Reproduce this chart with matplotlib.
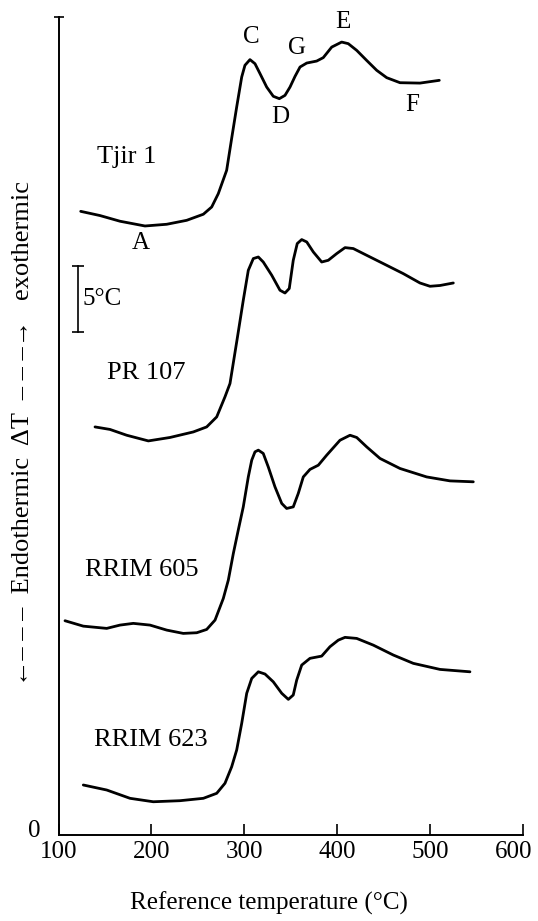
import numpy as np
import matplotlib
matplotlib.use("Agg")
import matplotlib.pyplot as plt
from matplotlib.transforms import ScaledTranslation

plt.rcParams['font.family'] = ['Liberation Serif', 'DejaVu Serif']

# DTA curves: reference temperature (C) vs offset delta T (C)
tjir_T = [123.9, 144.7, 166.2, 193.1, 216.5, 238.0, 255.9, 264.9, 272.0, 281.0, 286.4,
          291.8, 297.2, 300.7, 306.1, 311.5, 316.9, 324.1, 331.2, 337.7, 343.8, 349.2, 354.6,
          360.0, 367.2, 377.9, 385.0, 394.1, 404.8, 411.9, 421.0, 431.7, 442.5, 453.3, 467.6,
          489.1, 509.9]
tjir_dT = [47.27, 46.95, 46.52, 46.16, 46.29, 46.59, 47.05, 47.60, 48.61, 50.38, 52.80,
           55.18, 57.45, 58.34, 58.77, 58.46, 57.71, 56.69, 55.99, 55.81, 56.06, 56.69, 57.50,
           58.21, 58.51, 58.66, 58.92, 59.72, 60.10, 59.98, 59.47, 58.71, 57.96, 57.40, 57.02,
           56.99, 57.20]

pr107_T = [139.3, 155.4, 173.4, 196.7, 220.0, 245.1, 259.5, 270.3, 279.2, 284.6, 292.1, 298.9,
           304.3, 309.7, 315.1, 320.4, 329.5, 338.4, 343.8, 348.4, 352.7, 357.0, 361.8, 367.2,
           374.3, 383.3, 390.4, 399.5, 408.4, 417.3, 431.7, 449.6, 471.1, 489.1, 499.9, 510.7,
           525.0]
pr107_dT = [30.93, 30.74, 30.30, 29.87, 30.13, 30.55, 30.93, 31.69, 33.21, 34.22, 37.50, 40.53,
            42.80, 43.69, 43.81, 43.43, 42.43, 41.29, 41.08, 41.42, 43.56, 44.83, 45.13, 44.95,
            44.19, 43.43, 43.56, 44.07, 44.52, 44.45, 43.94, 43.31, 42.55, 41.84, 41.59, 41.65,
            41.84]

rrim605_T = [107.0, 126.7, 151.9, 166.2, 180.5, 198.5, 216.5, 234.3, 248.8, 259.5, 268.5,
             277.4, 282.8, 288.2, 293.5, 298.9, 304.3, 308.0, 311.5, 315.1, 320.4, 325.8, 333.0,
             340.3, 345.6, 352.7, 358.1, 363.5, 370.7, 379.7, 388.7, 403.0, 413.8, 421.0, 431.7,
             446.1, 467.6, 496.3, 521.4, 546.5]
rrim605_dT = [16.24, 15.83, 15.66, 15.91, 16.04, 15.91, 15.53, 15.28, 15.33, 15.58, 16.29,
              17.93, 19.32, 21.34, 23.11, 24.87, 27.14, 28.41, 29.04, 29.17, 28.92, 27.90, 26.39,
              25.13, 24.75, 24.87, 25.89, 27.14, 27.71, 28.03, 28.79, 29.92, 30.30, 30.13, 29.42,
              28.54, 27.78, 27.14, 26.84, 26.77]

rrim623_T = [126.7, 151.9, 177.0, 202.0, 230.8, 255.9, 270.3, 279.2, 286.4, 291.8, 297.2, 302.6,
             308.0, 315.1, 322.3, 331.2, 340.3, 347.4, 352.7, 356.4, 361.8, 370.7, 383.3, 392.2,
             401.2, 408.4, 421.0, 438.9, 460.4, 481.9, 510.7, 542.9]
rrim623_dT = [3.79, 3.41, 2.78, 2.52, 2.60, 2.78, 3.16, 3.92, 5.17, 6.44, 8.46, 10.74,
              11.87, 12.37, 12.20, 11.61, 10.74, 10.28, 10.61, 11.74, 12.88, 13.39, 13.56, 14.27,
              14.77, 14.98, 14.90, 14.39, 13.64, 13.01, 12.55, 12.37]

# sample names and where they sit
names = ['Tjir 1', 'PR 107', 'RRIM 605', 'RRIM 623']
name_T = [173.7, 194.2, 189.9, 199.6]
name_dT = [51.4, 35.0, 20.1, 7.2]

# peak letters on the Tjir 1 curve
letters = ['A', 'C', 'D', 'G', 'E', 'F']
letter_T = [188.8, 307.2, 338.4, 356.7, 406.2, 480.5]
letter_dT = [44.85, 60.46, 54.40, 59.62, 61.59, 55.30]

# 5 C scale bar
bar_T = 121.0
bar_low = 38.1
bar_len = 5.0

xticks = [100, 200, 300, 400, 500, 600]

fig = plt.figure(figsize=(5.38, 9.21), dpi=100)
ax = fig.add_axes([58.5 / 538, 86 / 921, 464.5 / 538, 818 / 921])

for T, d in [(tjir_T, tjir_dT), (pr107_T, pr107_dT), (rrim605_T, rrim605_dT), (rrim623_T, rrim623_dT)]:
    ax.plot(T, d, color='black', lw=2.0, solid_joinstyle='round', solid_capstyle='round')

for n, x, y in zip(names, name_T, name_dT):
    ax.text(x, y, n, fontsize=19, ha='center', va='center')

for l, x, y in zip(letters, letter_T, letter_dT):
    ax.text(x, y, l, fontsize=18, ha='center', va='center', clip_on=False)

# scale bar
ax.plot([bar_T, bar_T], [bar_low, bar_low + bar_len], color='black', lw=1.2,
        marker='_', ms=8, mew=1.2)
ax.text(bar_T + 5, bar_low + bar_len / 2, '5°C', fontsize=18, ha='left', va='center')

ax.set_xlim(100, 600)
ax.set_ylim(0, 62)
ax.spines['top'].set_visible(False)
ax.spines['right'].set_visible(False)
for s in ['left', 'bottom']:
    ax.spines[s].set_linewidth(1.4)

ax.set_xticks(xticks)
ax.set_xticklabels([str(t) for t in xticks], fontsize=18)
ax.tick_params(axis='x', direction='in', length=8, width=1.2, pad=4)
# last label sits a little left of its tick in the original
lab = ax.get_xticklabels()[-1]
lab.set_transform(lab.get_transform() + ScaledTranslation(-9 / 100, 0, fig.dpi_scale_trans))

ax.set_yticks([0])
ax.set_yticklabels(['0'], fontsize=18)
ax.tick_params(axis='y', which='major', length=0, pad=13)
zlab = ax.get_yticklabels()[0]
zlab.set_transform(zlab.get_transform() + ScaledTranslation(0, 7 / 100, fig.dpi_scale_trans))
ax.set_yticks([62], minor=True)
ax.tick_params(axis='y', which='minor', direction='inout', length=7, width=1.2)

fig.text(269 / 538, 1 - 903 / 921, 'Reference temperature (°C)', fontsize=18,
         ha='center', va='center')
fig.text(23 / 538, 1 - 433 / 921, '←– – –  Endothermic  ΔT  – – –→   exothermic',
         fontsize=19, rotation=90, ha='center', va='center')

fig.savefig('out.png', dpi=100)
